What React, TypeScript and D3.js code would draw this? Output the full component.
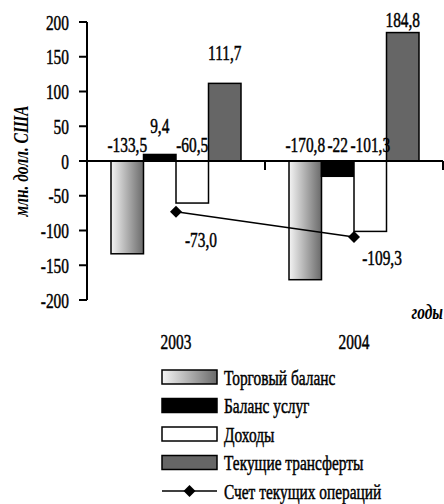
import React from "react";
import * as d3 from "d3";

const years = ["2003", "2004"];
const seriesNames = ["Торговый баланс", "Баланс услуг", "Доходы", "Текущие трансферты"];
const tradeBalance = [-133.5, -170.8];
const servicesBalance = [9.4, -22];
const income = [-60.5, -101.3];
const transfers = [111.7, 184.8];
const currentAccount = [-73.0, -109.3];
const barLabels = [["-133,5", "9,4", "-60,5", "111,7"], ["-170,8", "-22", "-101,3", "184,8"]];
const lineLabels = ["-73,0", "-109,3"];
const lineLegend = "Счет текущих операций";
const yTicks = [200, 150, 100, 50, 0, -50, -100, -150, -200];
const yTitle = "млн. долл. США";
const xTitle = "годы";

const W = 444, H = 504;
const FONT = "'Liberation Serif', 'Times New Roman', serif";
const SX = 0.7;
const FS = 22;

function T({ x, y, anchor = "middle", children, italic = false, rotate = 0, size = FS, sx = SX }: any) {
  return (
    <text
      transform={`translate(${x},${y}) rotate(${rotate}) scale(${sx},1)`}
      textAnchor={anchor}
      fontFamily={FONT}
      fontSize={size}
      fontStyle={italic ? "italic" : "normal"}
      fontWeight={italic ? "bold" : "normal"}
      fill="#000"
      stroke="#000"
      strokeWidth={italic ? 0 : 0.5}
    >
      {children}
    </text>
  );
}

export default function App() {
  const plotLeft = 87, plotRight = 443;
  const y = d3.scaleLinear().domain([-200, 200]).range([300, 22]);
  const x0 = d3.scaleBand().domain(years).range([plotLeft, plotRight]).paddingInner(0).paddingOuter(0);
  const groupW = 130;
  const x1 = d3.scaleBand().domain(seriesNames).range([0, groupW]).padding(0);
  const series = [tradeBalance, servicesBalance, income, transfers];
  const fills = ["url(#tradeGrad)", "#000", "#fff", "#666"];
  // label baseline offsets (layout only)
  const posLift = [[0, 18, 0, 20], [0, 0, 0, 3]];
  const lineLabelDx = [25, 28];
  const lineLabelDy = [35, 28];
  const negBaseline = y(0) - 9;

  const groupX = (yr: string) => (x0(yr) as number) + x0.bandwidth() / 2 - groupW / 2;
  const line = d3.line<number>()
    .x((_, i) => (x0(years[i]) as number) + x0.bandwidth() / 2)
    .y((v) => y(v));
  const diamond = d3.symbol(d3.symbolSquare, 72)() as string;

  const legendY0 = 377, legendStep = 28.5;
  const swX = 162, swW = 55, swH = 14;

  return (
    <svg width={W} height={H} style={{ position: "absolute", left: 0, top: 0, background: "#fff" }}>
      <defs>
        <linearGradient id="tradeGrad" x1="0" x2="1" y1="0" y2="0">
          <stop offset="0" stopColor="#f4f4f4" />
          <stop offset="1" stopColor="#6a6a6a" />
        </linearGradient>
      </defs>
      <rect width={W} height={H} fill="#fff" />

      {/* bars */}
      {years.map((yr, yi) => (
        <g key={yr} transform={`translate(${groupX(yr)},0)`}>
          {seriesNames.map((s, si) => {
            const v = series[si][yi];
            const top = y(Math.max(0, v));
            const h = Math.abs(y(v) - y(0));
            return (
              <rect key={s} x={x1(s) as number} y={top} width={x1.bandwidth()} height={h}
                fill={fills[si]} stroke="#000" strokeWidth={1.5} />
            );
          })}
        </g>
      ))}

      {/* axes */}
      <line x1={plotLeft} x2={plotLeft} y1={y(200)} y2={y(-200)} stroke="#000" strokeWidth={2} />
      {yTicks.map((t) => (
        <g key={t}>
          <line x1={plotLeft - 8} x2={plotLeft} y1={y(t)} y2={y(t)} stroke="#000" strokeWidth={2} />
          <T x={69} y={y(t) + 7.5} anchor="end">{String(t)}</T>
        </g>
      ))}
      <line x1={plotLeft} x2={plotRight} y1={y(0)} y2={y(0)} stroke="#000" strokeWidth={2} />
      {years.map((yr) => (
        <line key={yr} x1={(x0(yr) as number) + x0.bandwidth()} x2={(x0(yr) as number) + x0.bandwidth()}
          y1={y(0)} y2={y(0) + 9} stroke="#000" strokeWidth={2} />
      ))}

      {/* bar labels */}
      {years.map((yr, yi) =>
        seriesNames.map((s, si) => {
          const v = series[si][yi];
          const cx = groupX(yr) + (x1(s) as number) + x1.bandwidth() / 2;
          const by = v >= 0 ? y(v) - posLift[yi][si] - 3 : negBaseline;
          return <T key={yr + s} x={cx} y={by}>{barLabels[yi][si]}</T>;
        })
      )}

      {/* line series */}
      <path d={line(currentAccount) as string} fill="none" stroke="#000" strokeWidth={1.5} />
      {currentAccount.map((v, i) => {
        const cx = (x0(years[i]) as number) + x0.bandwidth() / 2;
        return (
          <g key={i}>
            <path d={diamond} transform={`translate(${cx},${y(v)}) rotate(45)`} fill="#000" />
            <T x={cx + lineLabelDx[i]} y={y(v) + lineLabelDy[i]} >{lineLabels[i]}</T>
          </g>
        );
      })}

      {/* titles */}
      <T x={28} y={y(0)} rotate={-90} italic>{yTitle}</T>
      <T x={443} y={319} anchor="end" italic>{xTitle}</T>
      {years.map((yr) => (
        <T key={yr} x={(x0(yr) as number) + x0.bandwidth() / 2} y={349}>{yr}</T>
      ))}

      {/* legend */}
      {seriesNames.map((s, si) => {
        const cy = legendY0 + si * legendStep;
        return (
          <g key={s}>
            <rect x={swX} y={cy - swH / 2} width={swW} height={swH} fill={fills[si]} stroke="#000" strokeWidth={1.5} />
            <T x={224} y={cy + 7.5} anchor="start">{s}</T>
          </g>
        );
      })}
      {(() => {
        const cy = legendY0 + 4 * legendStep;
        return (
          <g>
            <line x1={swX} x2={swX + swW} y1={cy} y2={cy} stroke="#000" strokeWidth={1.5} />
            <path d={diamond} transform={`translate(${swX + swW / 2},${cy}) rotate(45)`} fill="#000" />
            <T x={224} y={cy + 7.5} anchor="start">{lineLegend}</T>
          </g>
        );
      })()}
    </svg>
  );
}
